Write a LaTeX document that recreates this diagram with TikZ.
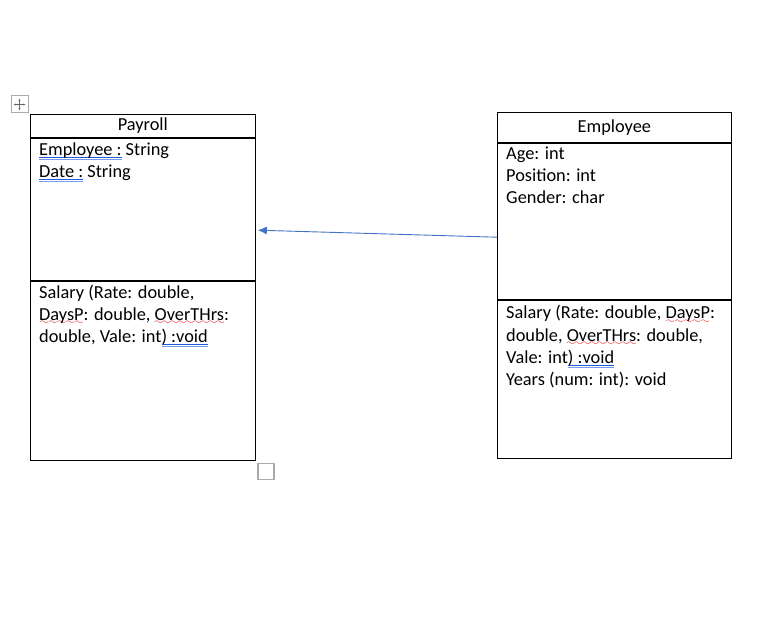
\documentclass[tikz,border=0pt]{standalone}
\usepackage{fontspec}
\setmainfont{Carlito}
\usepackage{tikz}
\usetikzlibrary{arrows.meta,positioning,calc}
\definecolor{UMLblue}{RGB}{68,114,196}
\definecolor{SPELLred}{RGB}{230,0,0}
\definecolor{GRAMblue}{RGB}{30,90,220}
\definecolor{HANDLEgray}{RGB}{170,170,170}
\font\wavefont=lasy6 at 9pt
\newcommand\spellwave[1]{\setbox0\hbox{#1}%
  \rlap{\color{SPELLred}\hbox to \wd0{\xleaders\hbox{\lower4.5pt\hbox{\wavefont\char58}}\hfill}}\box0\relax}
\newcommand\gramline[1]{\setbox0\hbox{#1}%
  \rlap{\color{GRAMblue}\rule[-2pt]{\wd0}{0.7pt}}%
  \rlap{\color{GRAMblue!60}\rule[-4.3pt]{\wd0}{0.7pt}}\box0\relax}
\tikzset{
  cbox/.style  = {rectangle, draw=black, line width=0.8pt, inner sep=0pt,
                  font=\fontsize{18.33}{22.3}\selectfont},
  ctext/.style = {inner sep=0pt, align=left, anchor=base west,
                  font=\fontsize{18.33}{22.3}\selectfont},
  handle/.style = {draw=HANDLEgray, line width=1.6pt}
}

\begin{document}
\begin{tikzpicture}[x=1pt, y=-1pt]
  \useasboundingbox (0,0) rectangle (764,623);

  % Payroll class
  \node[cbox, minimum width=225pt, minimum height=23pt, anchor=north west] (payname) at (30,114) {Payroll};
  \node[cbox, minimum width=225pt, minimum height=142pt, below=0pt of payname] (payattr) {};
  \node[cbox, minimum width=225pt, minimum height=179pt, below=0pt of payattr] (payops)  {};
  % (base of a multi-line node = its last line)
  \node[ctext] (paya) at ($(payattr.north west)+(9,40)$)
    {\gramline{Employee :} String\\\gramline{Date :} String};
  \node[ctext] (payo) at ($(payops.north west)+(9,62)$)
    {Salary (Rate: double,\\\spellwave{DaysP}: double, \spellwave{OverTHrs}:\\double, Vale: int\gramline{) :void}};

  % Employee class
  \node[cbox, minimum width=234pt, minimum height=30pt, anchor=north west] (empname) at (497,112) {Employee};
  \node[cbox, minimum width=234pt, minimum height=156pt, below=0pt of empname] (empattr) {};
  \node[cbox, minimum width=234pt, minimum height=158pt, below=0pt of empattr] (empops)  {};
  \node[ctext] (empa) at ($(empattr.north west)+(9,61)$)
    {Age: int\\Position: int\\Gender: char};
  \node[ctext] (empo) at ($(empops.north west)+(9,86)$)
    {Salary (Rate: double, \spellwave{DaysP}:\\double, \spellwave{OverTHrs}: double,\\Vale: int\gramline{) :void}\\Years (num: int): void};

  % association
  \coordinate (src) at ($(empattr.west)+(0,16)$);
  \coordinate (dst) at ($(payattr.east)+(2,21)$);
  \draw[UMLblue, line width=0.9pt, -{Latex[length=9pt,width=8pt]}] (src) -- (dst);

  % table handles
  \draw[handle, line width=1pt] (11,96) rectangle (28,113);
  \draw[gray!80!black, line width=0.6pt, {Stealth[length=2.5pt]}-{Stealth[length=2.5pt]}] (13.5,104.5) -- (25.5,104.5);
  \draw[gray!80!black, line width=0.6pt, {Stealth[length=2.5pt]}-{Stealth[length=2.5pt]}] (19.5,98.5) -- (19.5,110.5);
  \draw[handle] ($(payops.south east)+(2,3)$) rectangle ($(payops.south east)+(18,19)$);
\end{tikzpicture}
\end{document}
